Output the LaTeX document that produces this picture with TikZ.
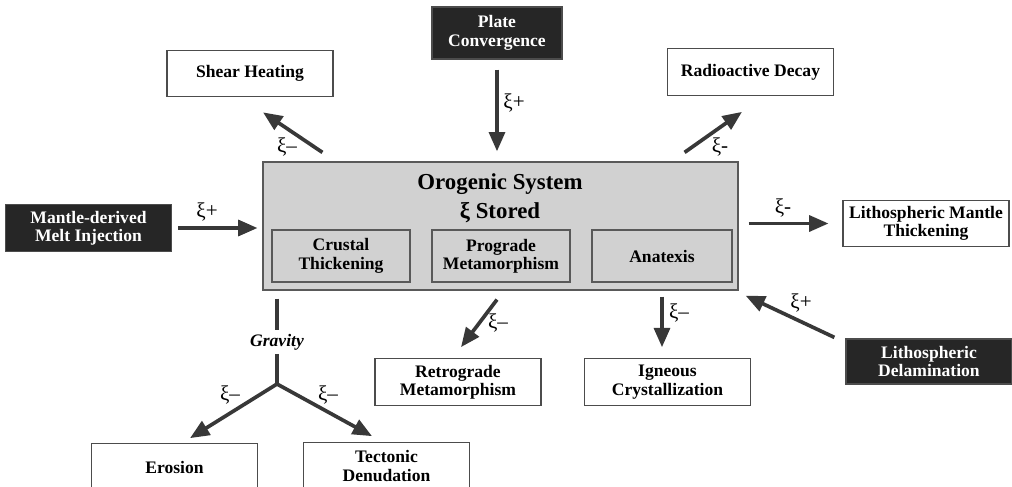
\documentclass[tikz,border=0pt]{standalone}
\usepackage{fontspec}
\setmainfont{Liberation Serif}
\usetikzlibrary{arrows.meta,calc}

\begin{document}
\begin{tikzpicture}[x=0.02cm,y=-0.02cm,
  box/.style={draw=black!70, line width=0.7pt, fill=white, align=center,
    font=\fontsize{10}{10.5}\selectfont\bfseries,
    minimum width=3.32cm, minimum height=0.93cm, inner sep=1pt},
  darkbox/.style={box, fill=black!85, text=white},
  inbox/.style={box, fill=black!18, draw=black!65, minimum width=2.76cm, minimum height=1.04cm},
  flow/.style={-{Triangle[length=11pt,width=9pt]}, line width=2.1pt, draw=black!78},
  stem/.style={line width=2.1pt, draw=black!78},
  xi/.style={font=\fontsize{12}{12}\selectfont, inner sep=0pt}]
\clip (0,0) rectangle (1012,487);

% sources (dark) and sinks (white)
\node[darkbox, minimum width=2.6cm, minimum height=1.04cm] (plate) at (497,33) {Plate\\Convergence};
\node[box] (shear) at (250,73.5) {Shear Heating};
\node[box] (radio) at (750.5,72) {Radioactive Decay};
\node[darkbox] (mantle) at (88.5,228) {Mantle-derived\\Melt Injection};
\node[box] (lithm) at (926,223.5) {Lithospheric Mantle\\Thickening};
\node[darkbox, minimum height=0.9cm] (delam) at (929,361.5) {Lithospheric\\Delamination};
\node[box] (retro) at (458,382) {Retrograde\\Metamorphism};
\node[box] (igneous) at (667.5,382) {Igneous\\Crystallization};
\node[box] (erosion) at (174.5,467) {Erosion};
\node[box] (tecto) at (386.5,466) {Tectonic\\Denudation};

% orogenic system
\node[draw=black!65, line width=0.7pt, fill=black!18, minimum width=9.5cm, minimum height=2.56cm] (sys) at (500.5,226) {};
\node[align=center, font=\fontsize{13}{16.5}\selectfont\bfseries] (title) at (500,198) {Orogenic System\\ξ Stored};
\node[inbox] (crust) at (341,256) {Crustal\\Thickening};
\node[inbox] (prograde) at (501,256) {Prograde\\Metamorphism};
\node[inbox, minimum width=2.8cm] (anatexis) at (662,256) {Anatexis};

% fluxes
\draw[flow, shorten <=5.7pt, shorten >=5.7pt] (plate.south) -- (plate.south |- sys.north);
\draw[flow] ($(sys.north west)+(60,-9)$) -- ($(shear.south)+(13,15)$);
\draw[flow] ($(sys.north east)+(-54,-9)$) -- ($(radio.south)+(-8.5,16)$);
\draw[flow, shorten <=3.4pt, shorten >=2.8pt] (mantle.east) -- (mantle.east -| sys.west);
\draw[flow, shorten <=5.7pt, shorten >=7.9pt] (sys.east |- lithm.west) -- (lithm.west);
\draw[flow] ($(sys.south)+(-3.5,9)$) -- ($(retro.north)+(3,-11)$);
\draw[flow, shorten <=3.4pt, shorten >=6.2pt] (anatexis.south |- sys.south) -- (anatexis.south |- igneous.north);
\draw[flow] ($(delam.north west)+(-11,-1)$) -- ($(sys.south east)+(7,5)$);

% gravity
\node[font=\fontsize{10}{10}\selectfont\bfseries\itshape, inner sep=2pt] (grav) at (277,342) {Gravity};
\coordinate (fork) at (277,384);
\draw[stem, shorten <=4.5pt] (grav.north |- sys.south) -- (grav.north);
\draw[stem] (grav.south) -- (fork);
\draw[flow] (fork) -- ($(erosion.north)+(15.5,-5)$);
\draw[flow] (fork) -- ($(tecto.north)+(-14.5,-6)$);

% labels
\node[xi] (xiplate) at (514,103) {ξ+};
\node[xi] (xishear) at (287,147) {ξ–};
\node[xi] (xiradio) at (720,147) {ξ-};
\node[xi] (ximantle) at (207,212) {ξ+};
\node[xi] (xilithm) at (783,208) {ξ-};
\node[xi] (xiretro) at (498,323) {ξ–};
\node[xi] (xiign) at (679,313) {ξ–};
\node[xi] (xidelam) at (801,303) {ξ+};
\node[xi] (xieros) at (230,395) {ξ–};
\node[xi] (xitecto) at (328,395) {ξ–};
\end{tikzpicture}
\end{document}
